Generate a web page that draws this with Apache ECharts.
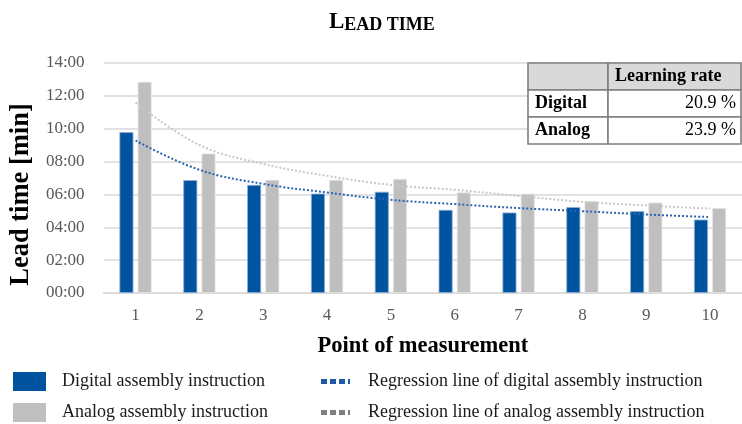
<!DOCTYPE html>
<html>
<head>
<meta charset="utf-8">
<script src="https://cdn.jsdelivr.net/npm/echarts@6/dist/echarts.min.js"></script>
<style>
    html, body { margin: 0; padding: 0; background: #fff; }
    #container { width: 742px; height: 424px; }
</style>
</head>
<body>
<div id="container"></div>
<script>
    // values in minutes
    var points = ['1', '2', '3', '4', '5', '6', '7', '8', '9', '10'];
    var digitalTime = [9.79, 6.87, 6.58, 6.05, 6.16, 5.06, 4.90, 5.23, 4.98, 4.47];
    var analogTime = [12.86, 8.49, 6.89, 6.89, 6.95, 6.12, 6.04, 5.59, 5.51, 5.17];
    var digitalTrend = [9.28, 7.50, 6.64, 6.12, 5.67, 5.41, 5.17, 4.98, 4.78, 4.62];
    var analogTrend = [11.59, 9.01, 7.86, 7.13, 6.58, 6.28, 5.91, 5.55, 5.33, 5.14];
    var yTickLabels = ['00:00', '02:00', '04:00', '06:00', '08:00', '10:00', '12:00', '14:00'];
    var tableHead = ['', 'Learning rate'];
    var tableRows = ['Digital', 'Analog'];
    var learningRates = ['20.9 %', '23.9 %'];

    var serif = '"Liberation Serif", "Times New Roman", serif';
    var names = ['Digital assembly instruction', 'Analog assembly instruction',
        'Regression line of digital assembly instruction', 'Regression line of analog assembly instruction'];
    var dotsIcon = 'path://M0,0M34,19M0,7h6v5h-6zM9,7h6v5h-6zM18,7h6v5h-6zM27,7h2v5h-2z';

    // learning rate table (top right)
    var tx = 528, ty = 63, colW = [80, 133], rowH = 27;
    var cells = [];
    for (var r = 0; r < 3; r++) {
        var cx = tx;
        for (var c = 0; c < 2; c++) {
            cells.push({
                type: 'rect',
                shape: {x: cx, y: ty + r * rowH, width: colW[c], height: rowH},
                style: {fill: r === 0 ? '#d9d9d9' : '#fff', stroke: '#7f7f7f', lineWidth: 1.6},
                z: 10
            });
            cx += colW[c];
        }
    }
    cells.push({
        type: 'text', z: 11,
        style: {x: tx + colW[0] + 7, y: ty + rowH / 2, text: tableHead[1], fill: '#000',
            font: 'bold 18px ' + serif, verticalAlign: 'middle', align: 'left'}
    });
    tableRows.forEach(function (name, i) {
        cells.push({
            type: 'text', z: 11,
            style: {x: tx + 7, y: ty + rowH * (i + 1.5), text: name, fill: '#000',
                font: 'bold 18px ' + serif, verticalAlign: 'middle', align: 'left'}
        });
        cells.push({
            type: 'text', z: 11,
            style: {x: tx + colW[0] + colW[1] - 5, y: ty + rowH * (i + 1.5), text: learningRates[i], fill: '#000',
                font: '18px ' + serif, verticalAlign: 'middle', align: 'right'}
        });
    });

    var legendText = {fontFamily: serif, fontSize: 18, lineHeight: 19, color: '#1a1a1a', padding: [0, 0, 0, 11]};
    var legendText2 = {fontFamily: serif, fontSize: 18, lineHeight: 19, color: '#1a1a1a', padding: [0, 0, 0, 8]};

    var myChart = echarts.init(document.getElementById('container'));
    var option = {
        animation: false,
        title: {
            text: '{a|L}{b|EAD TIME}',
            left: 324,
            top: 6,
            textStyle: {
                rich: {
                    a: {fontFamily: serif, fontWeight: 'bold', fontSize: 23, color: '#000'},
                    b: {fontFamily: serif, fontWeight: 'bold', fontSize: 18, color: '#000', verticalAlign: 'bottom'}
                }
            }
        },
        grid: {left: 100, right: 0, top: 63, bottom: 131, containLabel: false},
        legend: [{
            left: 13, top: 372, orient: 'vertical', padding: 0, height: 52,
            itemWidth: 33, itemHeight: 19, itemGap: 12,
            textStyle: legendText,
            data: [
                {name: names[0], icon: 'rect', itemStyle: {borderWidth: 0}},
                {name: names[1], icon: 'rect', itemStyle: {borderWidth: 0}}
            ]
        }, {
            left: 321, top: 372, orient: 'vertical', padding: 0, height: 52,
            itemWidth: 34, itemHeight: 19, itemGap: 12,
            textStyle: legendText2,
            data: [
                {name: names[2], icon: dotsIcon, itemStyle: {color: '#1f5aa6'}},
                {name: names[3], icon: dotsIcon, itemStyle: {color: '#7f7f7f'}}
            ]
        }],
        xAxis: {
            type: 'category',
            data: points,
            name: 'Point of measurement',
            nameLocation: 'middle',
            nameGap: 42,
            nameTextStyle: {fontFamily: serif, fontWeight: 'bold', fontSize: 22.5, color: '#000'},
            axisLine: {lineStyle: {color: '#d9d9d9', width: 1.5}},
            axisTick: {show: false},
            axisLabel: {fontFamily: serif, fontSize: 17, color: '#595959', margin: 14}
        },
        yAxis: {
            type: 'value',
            min: 0,
            max: 14,
            interval: 2,
            name: 'Lead time [min]',
            nameLocation: 'middle',
            nameRotate: 90,
            nameGap: 67,
            nameTextStyle: {fontFamily: serif, fontWeight: 'bold', fontSize: 26.5, color: '#000', padding: [0, 33, 0, 0]},
            axisLine: {show: false},
            axisTick: {show: false},
            splitLine: {lineStyle: {color: '#d9d9d9', width: 1.5}},
            axisLabel: {
                fontFamily: serif, fontSize: 17, color: '#595959', margin: 19,
                formatter: function (v) { return yTickLabels[Math.round(v / 2)]; }
            }
        },
        series: [{
            name: names[0],
            type: 'bar',
            data: digitalTime,
            barWidth: 14,
            barGap: '30%',
            itemStyle: {color: '#00539f', borderColor: '#8fb0d6', borderWidth: 0.8}
        }, {
            name: names[1],
            type: 'bar',
            data: analogTime,
            barWidth: 14,
            itemStyle: {color: '#bfbfbf', borderColor: '#e6e6e6', borderWidth: 0.8}
        }, {
            name: names[2],
            type: 'line',
            data: digitalTrend,
            smooth: 0.4,
            symbol: 'none',
            z: 5,
            itemStyle: {color: '#1f5aa6'},
            lineStyle: {color: '#2a66b0', width: 2, type: [2, 2]}
        }, {
            name: names[3],
            type: 'line',
            data: analogTrend,
            smooth: 0.4,
            symbol: 'none',
            z: 5,
            itemStyle: {color: '#7f7f7f'},
            lineStyle: {color: '#c8c8c8', width: 2, type: [2, 2]}
        }],
        graphic: cells
    };
    myChart.setOption(option);
</script>
</body>
</html>
